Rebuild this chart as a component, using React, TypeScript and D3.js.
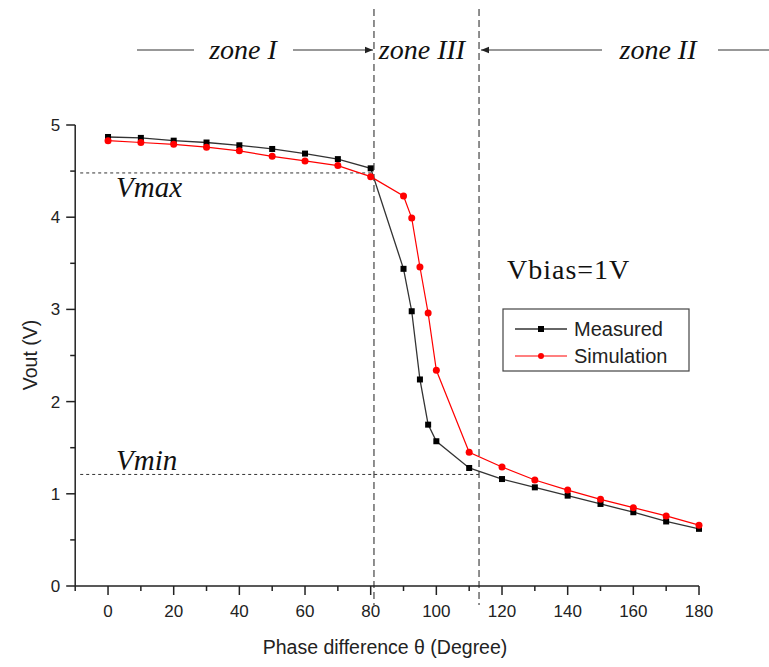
import React from "react";
import * as d3 from "d3";

const measuredTheta = [0, 10, 20, 30, 40, 50, 60, 70, 80, 90, 92.5, 95, 97.5, 100, 110, 120, 130, 140, 150, 160, 170, 180];
const measuredVout = [4.87, 4.86, 4.83, 4.81, 4.78, 4.74, 4.69, 4.63, 4.53, 3.44, 2.98, 2.24, 1.75, 1.57, 1.28, 1.16, 1.07, 0.98, 0.89, 0.8, 0.7, 0.62];
const simTheta = [0, 10, 20, 30, 40, 50, 60, 70, 80, 90, 92.5, 95, 97.5, 100, 110, 120, 130, 140, 150, 160, 170, 180];
const simVout = [4.83, 4.81, 4.79, 4.76, 4.72, 4.66, 4.61, 4.56, 4.44, 4.23, 3.99, 3.46, 2.96, 2.34, 1.45, 1.29, 1.15, 1.04, 0.94, 0.85, 0.76, 0.66];
const xTicks = [0, 20, 40, 60, 80, 100, 120, 140, 160, 180];
const xMinor = [-10, 10, 30, 50, 70, 90, 110, 130, 150, 170];
const yTicks = [0, 1, 2, 3, 4, 5];
const yMinor = [0.5, 1.5, 2.5, 3.5, 4.5];
const zoneBounds = [81, 113];
const vmax = 4.48;
const vmin = 1.21;

const SANS = "'Liberation Sans', Arial, sans-serif";
const SERIF = "'Liberation Serif', 'Times New Roman', serif";

export default function App() {
  const x = d3.scaleLinear().domain([-10, 180]).range([75.2, 699]);
  const y = d3.scaleLinear().domain([0, 5]).range([586, 125]);
  const line = d3.line<[number, number]>().x((d) => x(d[0])).y((d) => y(d[1]));
  const mPts: [number, number][] = measuredTheta.map((t, i) => [t, measuredVout[i]]);
  const sPts: [number, number][] = simTheta.map((t, i) => [t, simVout[i]]);
  const x0 = x(-10);
  const y0 = y(0);
  return (
    <svg width={769} height={667} style={{ position: "absolute", left: 0, top: 0, background: "#fff" }}>
      <defs>
        <marker id="arr" viewBox="0 0 10 10" refX="10" refY="5" markerWidth="7" markerHeight="7" orient="auto-start-reverse">
          <path d="M0,1 L10,5 L0,9 z" fill="#222" />
        </marker>
      </defs>
      {/* zone annotation */}
      <g stroke="#333" strokeWidth={1.2}>
        <line x1={137} y1={50} x2={194} y2={50} />
        <line x1={293} y1={50} x2={x(zoneBounds[0]) - 1} y2={50} markerEnd="url(#arr)" />
        <line x1={602} y1={50} x2={x(zoneBounds[1]) + 2} y2={50} markerEnd="url(#arr)" />
        <line x1={718} y1={50} x2={769} y2={50} />
      </g>
      <g fontFamily={SERIF} fontStyle="italic" fontSize={28} fill="#111">
        <text x={243} y={59} textAnchor="middle">zone I</text>
        <text x={422} y={59} textAnchor="middle">zone III</text>
        <text x={658} y={59} textAnchor="middle">zone II</text>
      </g>
      {/* vertical dashed zone lines */}
      {zoneBounds.map((b) => (
        <line key={b} x1={x(b)} x2={x(b)} y1={9} y2={605} stroke="#444" strokeWidth={1.2} strokeDasharray="7,4" />
      ))}
      {/* Vmax / Vmin lines */}
      <line x1={x0 + 5} x2={x(zoneBounds[0])} y1={y(vmax)} y2={y(vmax)} stroke="#333" strokeWidth={1} strokeDasharray="3,3" />
      <line x1={x0 + 5} x2={x(zoneBounds[1])} y1={y(vmin)} y2={y(vmin)} stroke="#333" strokeWidth={1} strokeDasharray="3,3" />
      <g fontFamily={SERIF} fontStyle="italic" fontSize={29} fill="#111">
        <text x={116} y={197}>Vmax</text>
        <text x={116} y={470}>Vmin</text>
      </g>
      <text x={507} y={279} fontFamily={SERIF} fontSize={28} letterSpacing={1} fill="#111">Vbias=1V</text>
      {/* axes */}
      <g stroke="#222" strokeWidth={1.5}>
        <line x1={x0} x2={x(180)} y1={y0} y2={y0} />
        <line x1={x0} x2={x0} y1={y0} y2={y(5)} />
        {xTicks.map((t) => (
          <line key={"xt" + t} x1={x(t)} x2={x(t)} y1={y0} y2={y0 + 9} />
        ))}
        {xMinor.map((t) => (
          <line key={"xm" + t} x1={x(t)} x2={x(t)} y1={y0} y2={y0 + 5} />
        ))}
        {yTicks.map((t) => (
          <line key={"yt" + t} x1={x0} x2={x0 - 9} y1={y(t)} y2={y(t)} />
        ))}
        {yMinor.map((t) => (
          <line key={"ym" + t} x1={x0} x2={x0 - 5} y1={y(t)} y2={y(t)} />
        ))}
      </g>
      <g fontFamily={SANS} fontSize={17} fill="#222">
        {xTicks.map((t) => (
          <text key={"xl" + t} x={x(t)} y={y0 + 31} textAnchor="middle">{t}</text>
        ))}
        {yTicks.map((t) => (
          <text key={"yl" + t} x={x0 - 15} y={y(t) + 6} textAnchor="end">{t}</text>
        ))}
      </g>
      <text x={385} y={654} fontFamily={SANS} fontSize={19.5} fill="#222" textAnchor="middle">Phase difference θ (Degree)</text>
      <text transform={`translate(37,355) rotate(-90)`} fontFamily={SANS} fontSize={19.5} fill="#222" textAnchor="middle">Vout (V)</text>
      {/* series */}
      <path d={line(mPts) || ""} fill="none" stroke="#333" strokeWidth={1.3} />
      <path d={line(sPts) || ""} fill="none" stroke="#ff0000" strokeWidth={1.2} />
      {mPts.map((p, i) => (
        <rect key={"m" + i} x={x(p[0]) - 3} y={y(p[1]) - 3} width={6} height={6} fill="#000" />
      ))}
      {sPts.map((p, i) => (
        <circle key={"s" + i} cx={x(p[0])} cy={y(p[1])} r={3.5} fill="#ff0000" />
      ))}
      {/* legend */}
      <rect x={503} y={309} width={186} height={62} fill="#fff" stroke="#444" strokeWidth={1.2} />
      <line x1={515} x2={567} y1={329} y2={329} stroke="#333" strokeWidth={1.3} />
      <rect x={538} y={326} width={6} height={6} fill="#000" />
      <line x1={515} x2={567} y1={356} y2={356} stroke="#ff0000" strokeWidth={1.2} />
      <circle cx={541} cy={356} r={3} fill="#ff0000" />
      <g fontFamily={SANS} fontSize={20} fill="#222">
        <text x={574} y={336}>Measured</text>
        <text x={574} y={363}>Simulation</text>
      </g>
    </svg>
  );
}
